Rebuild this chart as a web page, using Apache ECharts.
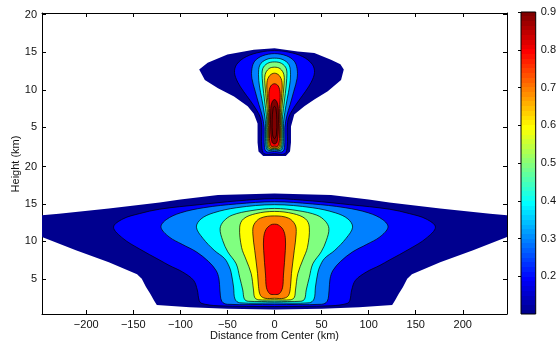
<!DOCTYPE html>
<html>
<head>
<meta charset="utf-8">
<script src="https://cdn.jsdelivr.net/npm/echarts@6/dist/echarts.min.js"></script>
<style>
html, body { margin: 0; padding: 0; background: #fff; }
#chart { width: 559px; height: 345px; }
</style>
</head>
<body>
<div id="chart"></div>
<script>
// contour levels and tick labels
const levels = [0.1, 0.2, 0.3, 0.4, 0.5, 0.6, 0.7, 0.8, 0.9, 1.0];
const distanceTicks = [-200, -150, -100, -50, 0, 50, 100, 150, 200];
const heightTicks = [5, 10, 15, 20];
const colorbarTicks = [0.2, 0.3, 0.4, 0.5, 0.6, 0.7, 0.8, 0.9];

// lower panel: right half of each filled contour, [distance km, height km],
// from the bottom at the centre, out, and back to the top at the centre
const lower01 = [[0, 0.9], [50, 1.0], [90, 1.2], [125, 1.5], [128, 2.1], [132, 3.0], [136.5, 3.9], [141, 5.0], [146, 5.6], [176, 7.2], [211, 8.8], [247, 10.6], [247, 13.5], [229, 13.7], [176, 14.4], [122, 15.2], [100, 15.6], [60, 16.2], [0, 16.4]];
const lower02 = [[0, 1.3], [60, 1.4], [77, 1.7], [80, 2.1], [82, 3.5], [86, 4.8], [97.5, 5.9], [112, 6.8], [122, 7.5], [143.6, 9.0], [161, 10.4], [171, 11.9], [161, 13.0], [143.6, 13.7], [122, 14.3], [80, 14.9], [40, 15.4], [0, 15.7]];
const lower03 = [[0, 1.6], [50, 1.6], [56, 2.0], [58, 3.5], [59, 5.0], [62, 6.1], [70, 7.3], [83, 8.6], [98, 9.6], [112, 10.6], [120.6, 11.9], [115, 12.9], [100, 13.8], [75, 14.5], [40, 15.0], [0, 15.3]];
const lower04 = [[0, 1.8], [37, 1.8], [42, 2.3], [43.5, 3.9], [46, 5.8], [48, 6.6], [53, 7.7], [64, 8.8], [76, 10.4], [83, 11.9], [78, 13.0], [65, 13.8], [40, 14.5], [0, 14.9]];
const lower05 = [[0, 2.0], [28, 2.0], [32, 2.3], [33.7, 3.5], [37, 5.2], [40.7, 7.0], [49.6, 8.6], [55, 10.1], [57.8, 11.7], [54, 12.7], [45, 13.5], [25, 14.1], [0, 14.4]];
const lower06 = [[0, 2.2], [17, 2.2], [21, 2.5], [22.3, 3.5], [24.8, 5.7], [30, 7.5], [35, 9.2], [37, 11.9], [33, 13.0], [20, 13.7], [0, 14.0]];
const lower07 = [[0, 2.4], [10, 2.4], [15, 2.8], [17, 4.0], [18, 5.7], [21, 8.8], [23, 11.0], [22, 12.2], [15, 13.1], [0, 13.4]];
const lower08 = [[0, 2.9], [5, 3.0], [8.5, 3.8], [9.5, 5.5], [11.5, 8.8], [11.5, 10.5], [9, 11.6], [4, 12.2], [0, 12.3]];

// upper panel, same layout; the outermost contour is not symmetric
const upper01Right = [[0, 1.2], [12, 1.2], [16.5, 1.8], [17.5, 3], [17.5, 5.1], [21, 6.7], [31.7, 7.8], [42.3, 8.7], [56.6, 9.8], [70.7, 11.3], [73.6, 12.7], [70, 13.4], [60, 14.0], [42.3, 14.9], [24.7, 15.1], [0, 15.5]];
const upper01Left = [[0, 1.2], [12, 1.2], [17, 1.8], [18, 3], [18, 5.5], [22, 6.8], [28.5, 7.8], [43, 9.1], [60, 10.2], [74, 11.3], [80, 12.7], [71, 13.6], [50, 14.7], [22, 15.3], [0, 15.6]];
const upper02 = [[0, 1.5], [11, 1.5], [13.5, 2.5], [13.5, 5], [15, 6.3], [19, 7.3], [26, 8.6], [33, 9.8], [39, 11], [42.5, 12.3], [40, 13.4], [30, 14.4], [15, 15.0], [0, 15.2]];
const upper03 = [[0, 1.8], [9, 1.8], [11, 3], [11, 5], [13, 6.5], [16.5, 8], [20.5, 9.8], [24, 11.5], [24, 12.8], [21, 13.8], [13, 14.5], [0, 14.8]];
const upper04 = [[0, 2], [7.5, 2], [9.5, 3.5], [9.5, 5.5], [11, 7], [13.5, 8.8], [16, 10.5], [17, 12], [15.5, 13.3], [9, 14], [0, 14.2]];
const upper05 = [[0, 2.1], [6.5, 2.1], [8.3, 3.5], [8.3, 6], [9.5, 7.5], [11.5, 9.5], [13, 11.5], [12.5, 12.8], [7.5, 13.5], [0, 13.7]];
const upper06 = [[0, 2.2], [5.5, 2.2], [7.3, 3.5], [7.3, 6.5], [8.5, 8.5], [10, 10.5], [10, 12], [6, 12.8], [0, 13.0]];
const upper07 = [[0, 2.3], [4.5, 2.3], [6.3, 3.5], [6.3, 7], [7.5, 9], [8, 11], [5, 11.9], [0, 12.2]];
const upper08 = [[0, 2.5], [3.5, 2.5], [5.3, 3.5], [5.3, 7.5], [6, 9.5], [4, 10.5], [0, 10.8]];
const upper09 = [[0, 2.8], [2.5, 3], [4, 4.5], [4, 7.5], [2.5, 8.4], [0, 8.7]];
const upper10 = [[0, 3.5], [2, 4], [2.5, 6], [1.5, 7.5], [0, 7.8]];

// MATLAB jet(64), k = 1..64
function jet(k) {
  const c = v => Math.round(255 * Math.max(0, Math.min(1, v)));
  const r = c(Math.min((k - 24) / 16, (72 - k) / 16));
  const g = c(Math.min((k - 8) / 16, (56 - k) / 16));
  const b = c(Math.min(0.5 + k / 16, (40 - k) / 16));
  return 'rgb(' + r + ',' + g + ',' + b + ')';
}
function levelColor(v) {
  const k = Math.round((v - 0.1) / 0.8 * 64);
  return jet(Math.max(1, Math.min(64, k)));
}

// full outline: right half, then the left half mirrored
function outline(right, left) {
  const l = (left || right).slice(1, -1).map(p => [-p[0], p[1]]).reverse();
  return right.concat(l);
}

function contourSeries(grid, pts, level, first) {
  return {
    type: 'custom',
    xAxisIndex: grid === 0 ? 0 : 1,
    yAxisIndex: grid === 0 ? 0 : 2,
    data: pts,
    silent: true,
    animation: false,
    renderItem: function (params, api) {
      if (params.dataIndex !== 0) return null;
      return {
        type: 'polygon',
        shape: { points: pts.map(p => api.coord(p)), smooth: first ? 0 : 0.35 },
        style: {
          fill: levelColor(level),
          stroke: first ? null : '#000',
          lineWidth: 0.7
        }
      };
    }
  };
}

const lowerSets = [lower01, lower02, lower03, lower04, lower05, lower06, lower07, lower08];
const upperSets = [[upper01Right, upper01Left], [upper02], [upper03], [upper04], [upper05], [upper06], [upper07], [upper08], [upper09], [upper10]];

const series = [];
lowerSets.forEach((s, i) => series.push(contourSeries(1, outline(s), levels[i], i === 0)));
upperSets.forEach((s, i) => series.push(contourSeries(0, outline(s[0], s[1]), levels[i], i === 0)));

// colour bar bands
const stops = [];
for (let i = 0; i < 64; i++) {
  stops.push({ offset: i / 64, color: jet(i + 1) });
  stops.push({ offset: (i + 1) / 64, color: jet(i + 1) });
}

const font = 'Liberation Sans, Arial, sans-serif';
const txt = { fontFamily: font, fontSize: 11, color: '#111' };
const frame = { show: true, onZero: false, lineStyle: { color: '#000', width: 1 } };
const minus = v => (v < 0 ? '\u2212' + Math.abs(v) : String(v));

function heightAxis(grid, min, pos, labels) {
  return {
    gridIndex: grid, type: 'value', min: min, max: 20.2, position: pos,
    axisLine: frame,
    axisTick: { show: true, inside: true, length: 4, customValues: heightTicks, lineStyle: { color: '#000' } },
    axisLabel: labels ? Object.assign({ customValues: heightTicks, margin: 5 }, txt) : { show: false },
    splitLine: { show: false }
  };
}

const chart = echarts.init(document.getElementById('chart'));
chart.setOption({
  backgroundColor: '#fff',
  animation: false,
  grid: [
    { left: 42, top: 13, width: 465, height: 152 },
    { left: 42, top: 165, width: 465, height: 149 },
    {
      left: 521, top: 12, width: 15, height: 302, show: true,
      borderColor: '#000', borderWidth: 1,
      backgroundColor: { type: 'linear', x: 0, y: 1, x2: 0, y2: 0, colorStops: stops }
    }
  ],
  xAxis: [
    {
      gridIndex: 0, type: 'value', min: -247, max: 247, position: 'top',
      axisLine: frame,
      axisTick: { show: true, inside: true, length: 4, customValues: distanceTicks, lineStyle: { color: '#000' } },
      axisLabel: { show: false },
      splitLine: { show: false }
    },
    {
      gridIndex: 1, type: 'value', min: -247, max: 247, position: 'bottom',
      axisLine: frame,
      axisTick: { show: true, inside: true, length: 4, customValues: distanceTicks, lineStyle: { color: '#000' } },
      axisLabel: Object.assign({ customValues: distanceTicks, margin: 5, formatter: minus }, txt),
      splitLine: { show: false },
      name: 'Distance from Center (km)',
      nameLocation: 'middle',
      nameGap: 16,
      nameTextStyle: txt
    },
    { gridIndex: 2, type: 'value', min: 0, max: 1, show: false }
  ],
  yAxis: [
    heightAxis(0, 0, 'left', true),
    heightAxis(0, 0, 'right', false),
    heightAxis(1, 0.3, 'left', true),
    heightAxis(1, 0.3, 'right', false),
    {
      gridIndex: 2, type: 'value', min: 0.1, max: 0.9, position: 'right',
      axisLine: { show: false },
      axisTick: { show: true, inside: true, length: 3, customValues: colorbarTicks, lineStyle: { color: '#000' } },
      axisLabel: Object.assign({ customValues: colorbarTicks, margin: 5, formatter: v => v.toFixed(1) }, txt),
      splitLine: { show: false }
    }
  ],
  graphic: [{
    type: 'text', x: 16, y: 164, rotation: Math.PI / 2,
    style: { text: 'Height (km)', font: '11px ' + font, fill: '#111', align: 'center', verticalAlign: 'middle' }
  }],
  series: series
});
</script>
</body>
</html>
